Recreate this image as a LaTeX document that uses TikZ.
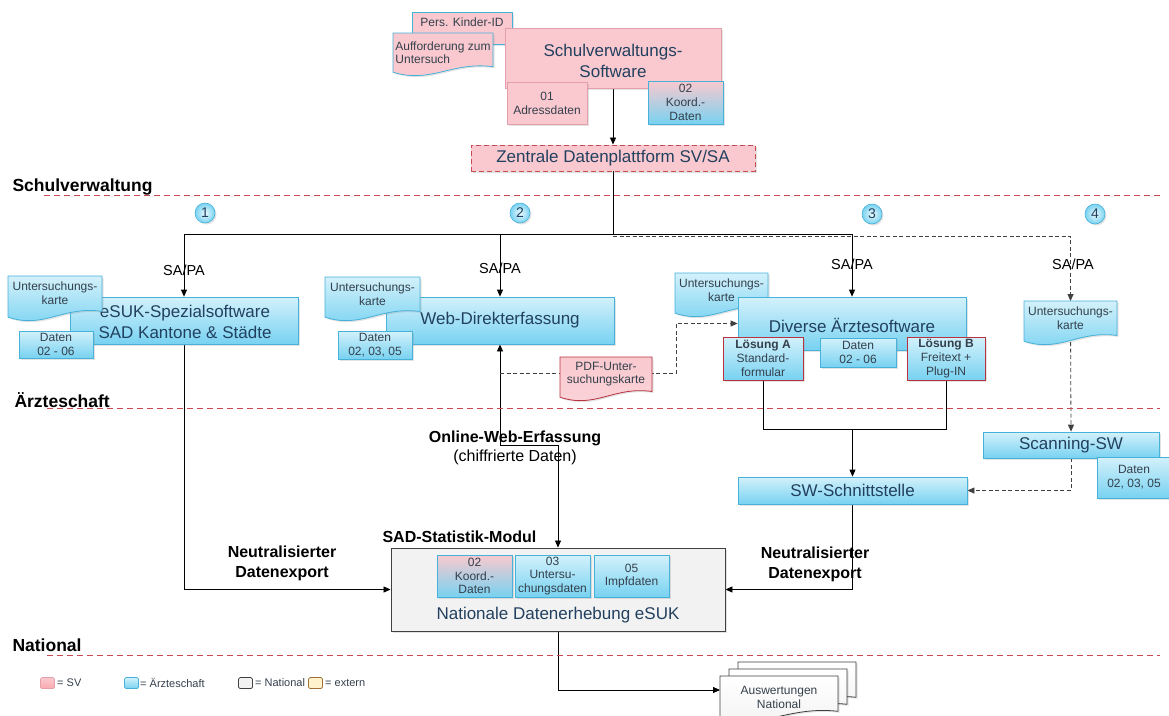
\documentclass[tikz,border=0pt]{standalone}
\usepackage{fontspec}
\setmainfont{Liberation Sans}
\usetikzlibrary{arrows.meta,calc,shadows,backgrounds}

\definecolor{pinkF}{HTML}{F9C9CF}
\definecolor{pinkD}{HTML}{E3A0AB}
\definecolor{blueT}{HTML}{D3F1FB}
\definecolor{blueB}{HTML}{78D2F1}
\definecolor{blueD}{HTML}{46B1D9}
\definecolor{redD}{HTML}{B8323F}
\definecolor{lineRed}{HTML}{C94A52}
\definecolor{titleC}{HTML}{22405F}
\definecolor{smallC}{HTML}{34404C}
\definecolor{natF}{HTML}{F2F2F2}
\definecolor{natD}{HTML}{404040}
\definecolor{extF}{HTML}{FFF2CC}
\definecolor{extD}{HTML}{A0703A}

\tikzset{
  title/.style={font=\fontsize{17}{21}\selectfont, text=titleC, align=center},
  small/.style={font=\fontsize{12}{13.8}\selectfont, text=smallC, align=center},
  lbl/.style={font=\fontsize{16}{20}\selectfont\bfseries, align=center},
  plainlbl/.style={font=\fontsize{16}{20}\selectfont, align=center},
  sect/.style={font=\fontsize{17.5}{20}\selectfont\bfseries, anchor=west},
  sapa/.style={font=\fontsize{14.5}{17}\selectfont},
  legtxt/.style={font=\fontsize{11}{13}\selectfont, text=smallC, anchor=west, inner sep=0pt},
  legsq/.style={minimum width=14pt, minimum height=11pt, inner sep=0pt, rounded corners=1.5pt, line width=0.7pt},
  shd/.style={drop shadow={opacity=0.22, shadow xshift=1.5pt, shadow yshift=-1.5pt}},
  pinkbox/.style={shd, fill=pinkF, draw=pinkD, line width=0.8pt, inner sep=0pt},
  bluebox/.style={shd, top color=blueT, bottom color=blueB, draw=blueD, line width=0.8pt, inner sep=0pt},
  mixbox/.style={shd, top color=pinkF, bottom color=blueB, draw=blueD, line width=0.8pt, inner sep=0pt},
  redbox/.style={bluebox, draw=redD},
  docblue/.style={shd, top color=blueT, bottom color=blueB, draw=blueD, line width=0.8pt},
  docpink/.style={shd, fill=pinkF, draw=blueD, line width=0.8pt},
  docred/.style={shd, top color=pinkF, bottom color=pinkF!80!white, draw=redD, line width=0.8pt},
  docgrey/.style={shd, top color=white, bottom color=natF, draw=natD, line width=0.8pt},
  num/.style={circle, minimum size=20pt, inner sep=0pt, inner color=blueT!40!white, outer color=blueB,
              draw=blueD, line width=0.6pt, font=\fontsize{14}{16}\selectfont, text=titleC, shd},
  conn/.style={draw=black, line width=0.8pt, -{Triangle[length=7pt,width=6pt]}},
  biconn/.style={draw=black, line width=0.8pt, {Triangle[length=7pt,width=6pt]}-{Triangle[length=7pt,width=6pt]}},
  plainconn/.style={draw=black, line width=0.8pt},
  dconn/.style={draw=natD, line width=0.8pt, dash pattern=on 4pt off 2.5pt, -{Triangle[length=7pt,width=6pt]}},
  secline/.style={draw=lineRed, line width=0.8pt, dash pattern=on 6pt off 4pt},
}

% document shape with a wavy lower edge: name, outline style, text style, x1, y1, x2, y2, text
\newcommand{\docnode}[8]{%
  \node[inner sep=0pt, outer sep=0pt, minimum width={#6-#4}, minimum height={#7-#5}, anchor=north west] (#1) at (#4,#5) {};
  \path[#2] let \p1=(#1.north west), \p2=(#1.south east), \n1={\x2-\x1}, \n2={\y1-\y2} in
    (\p1) -- (\x2,\y1) -- (\x2,{\y1-0.802*\n2})
    .. controls ({\x1+0.581*\n1},{\y1-0.676*\n2}) and ({\x1+0.382*\n1},{\y1-1.212*\n2}) ..
    (\x1,{\y1-0.934*\n2}) -- cycle;
  \node[#3] (#1-t) at ($(#1.north)!0.4!(#1.south)$) {#8};
}

\begin{document}
\begin{tikzpicture}[x=1pt,y=-1pt]
\useasboundingbox (0,0) rectangle (1169,715);

% ---------- section rulers ----------
\draw[secline] (44,195) -- (1160,195);
\draw[secline] (47,408) -- (1160,408);
\draw[secline] (47,655) -- (1160,655);
\node[sect] (secSV) at (9,187) {Schulverwaltung};
\node[sect] (secAE) at (11,400) {Ärzteschaft};
\node[sect] (secNat) at (9,645) {National};

% ---------- school administration ----------
\node[pinkbox, draw=blueD, minimum width=100, minimum height=32, anchor=north west] (kid) at (412,12) {};
\node[small] (kid-t) at (462,22) {Pers. Kinder-ID};
\docnode{auf}{docpink}{small, align=left, yshift=-3pt}{393}{33}{493}{75}{Aufforderung zum\\Untersuch}
\node[pinkbox, minimum width=216, minimum height=60] (svs) at (613,58) {};
\node[title] (svs-t) at (613,61) {Schulverwaltungs-\\Software};
\node[pinkbox, minimum width=80, minimum height=42, small] (adr) at (547,103) {01\\Adressdaten};
\node[mixbox, minimum width=75, minimum height=43, small] (koo) at (685.5,102.5) {02\\Koord.-\\Daten};
\node[shd, fill=pinkF, draw=lineRed, line width=0.9pt, dash pattern=on 5pt off 3pt,
      minimum width=284, minimum height=26, inner sep=0pt, title] (zdp) at (613,158) {Zentrale Datenplattform SV/SA};

% ---------- numbered variants ----------
\node[num] (n1) at (205,213) {1};
\node[num] (n2) at (520,213) {2};
\node[num] (n3) at (872,214) {3};
\node[num] (n4) at (1095,214) {4};

\node[sapa] (sa1) at (184,270) {SA/PA};
\node[sapa] (sa2) at (500,268) {SA/PA};
\node[sapa] (sa3) at (852,264) {SA/PA};
\node[sapa] (sa4) at (1073,264) {SA/PA};

% variant 1
\node[bluebox, minimum width=228, minimum height=47] (esuk) at (184,320.5) {};
\node[title] (esuk-t) at (185,322) {eSUK-Spezialsoftware\\SAD Kantone \& Städte};
\docnode{uk1}{docblue}{small}{8}{276}{102}{320}{Untersuchungs-\\karte}
\node[bluebox, minimum width=74, minimum height=27, small] (d1) at (56,344.5) {Daten\\02 - 06};

% variant 2
\node[bluebox, minimum width=228, minimum height=47, title] (web) at (500,320.5) {Web-Direkterfassung};
\docnode{uk2}{docblue}{small}{325}{277}{420}{320}{Untersuchungs-\\karte}
\node[bluebox, minimum width=74, minimum height=28, small] (d2) at (375,345) {Daten\\02, 03, 05};
\docnode{pdf}{docred}{small}{560}{357}{652}{400}{PDF-Unter-\\suchungskarte}

% variant 3
\docnode{uk3}{docblue}{small}{675}{273}{768}{316}{Untersuchungs-\\karte}
\node[bluebox, minimum width=228, minimum height=53] (div) at (852,323.5) {};
\node[title] (div-t) at (852,325) {Diverse Ärztesoftware};
\node[redbox, minimum width=80, minimum height=43, small] (la) at (763,358.5) {\textbf{Lösung A}\\Standard-\\formular};
\node[bluebox, minimum width=76, minimum height=29, small] (d3) at (858,352.5) {Daten\\02 - 06};
\node[redbox, minimum width=78, minimum height=43, small] (lb) at (946,358.5) {\textbf{Lösung B}\\Freitext +\\Plug-IN};

% variant 4
\docnode{uk4}{docblue}{small}{1024}{301}{1117}{344}{Untersuchungs-\\karte}
\node[bluebox, minimum width=176, minimum height=26, title] (scan) at (1071,445) {Scanning-SW};
\node[bluebox, minimum width=74, minimum height=41, small] (d4) at (1134,477.5) {Daten\\02, 03, 05};
\node[bluebox, minimum width=229, minimum height=27, title] (sws) at (852.5,490.5) {SW-Schnittstelle};

% ---------- national level ----------
\node[lbl, anchor=west] (sad) at (379,537) {SAD-Statistik-Modul};
\node[shd, fill=natF, draw=natD, line width=0.9pt, minimum width=334, minimum height=83, inner sep=0pt] (nde) at (558,589.5) {};
\node[title] (nde-t) at (558,615) {Nationale Datenerhebung eSUK};
\node[mixbox, minimum width=75, minimum height=42, small] (k2) at (474.5,576) {02\\Koord.-\\Daten};
\node[bluebox, minimum width=75, minimum height=42, small] (u3) at (552.5,576) {03\\Untersu-\\chungsdaten};
\node[bluebox, minimum width=75, minimum height=42, small] (i5) at (631.5,576) {05\\Impfdaten};

\node[lbl] (ne1) at (282,563) {Neutralisierter\\Datenexport};
\node[lbl] (ne2) at (815,564) {Neutralisierter\\Datenexport};
\node[lbl] (owe) at (515,438) {Online-Web-Erfassung};
\node[plainlbl] (chd) at (515,457) {(chiffrierte Daten)};

% stacked reports
\docnode{ausw3}{docgrey}{small}{738}{662}{856}{706}{}
\docnode{ausw2}{docgrey}{small}{729}{669}{847}{713}{}
\docnode{ausw}{docgrey}{small, yshift=-4pt}{720}{676}{838}{720}{Auswertungen\\National}

% ---------- legend ----------
\node[legsq, top color=pinkF, bottom color=pinkF!85!red, draw=pinkD] (lg1) at (47.5,683) {};
\node[legtxt] (lg1-t) at (57,683) {= SV};
\node[legsq, top color=blueT, bottom color=blueB, draw=blueD] (lg2) at (131.5,683) {};
\node[legtxt] (lg2-t) at (140,683) {= Ärzteschaft};
\node[legsq, fill=natF, draw=natD] (lg3) at (245.5,683) {};
\node[legtxt] (lg3-t) at (255,683) {= National};
\node[legsq, fill=extF, draw=extD] (lg4) at (315.5,683) {};
\node[legtxt] (lg4-t) at (325,683) {= extern};

% ---------- connectors ----------
\begin{pgfonlayer}{background}
\draw[conn] (svs.south) -- (zdp.north);
\draw[plainconn] (zdp.south) -- ++(0,63) coordinate (split);
\draw[conn] (split) -| (esuk.north);
\draw[conn] (split) -| (web.north);
\draw[conn] (split) -| (div.north);
\draw[dconn] ([yshift=-2pt]split) -| (uk4.north);
\draw[conn] (esuk.south) |- (nde.west);
\draw[biconn] (web.south) -- ++(0,101) -| (nde.north);
\draw[dconn] ([yshift=-29pt]web.south) -- ++(176,0) |- (div.west);
\draw[plainconn] (la.south) -- ++(0,49) coordinate (abj) -| (lb.south);
\draw[conn] (sws.north |- abj) -- (sws.north);
\draw[dconn] (uk4.center) -- (scan.north);
\draw[dconn] (scan.south) |- (sws.east);
\draw[conn] (sws.south) |- (nde.east);
\draw[conn] (nde.south) |- ([yshift=8pt]ausw.west);
\end{pgfonlayer}
\end{tikzpicture}
\end{document}
